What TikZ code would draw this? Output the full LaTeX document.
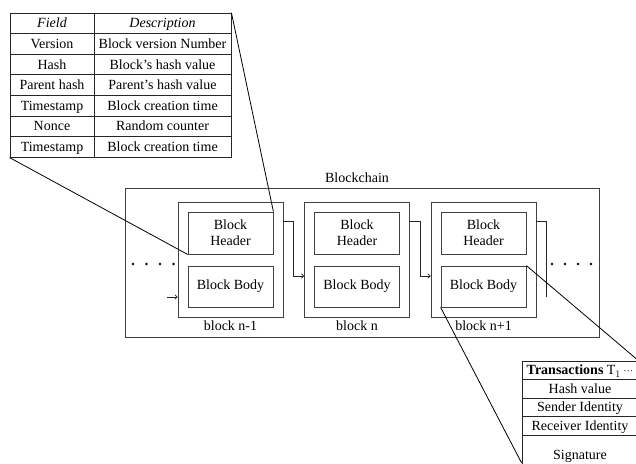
\documentclass[tikz,border=0pt]{standalone}
\usepackage{fontspec}
\setmainfont{Liberation Serif}
\usetikzlibrary{arrows.meta}
\begin{document}
\begin{tikzpicture}[x=1pt,y=-1pt,
  every node/.style={font=\fontsize{14}{16}\selectfont, inner sep=0pt},
  line/.style={line width=0.8pt, draw=black!85},
  cellA/.style={line, draw, minimum width=84pt, minimum height=20.6pt, text height=9.3pt, text depth=0pt},
  cellB/.style={line, draw, minimum width=137pt, minimum height=20.6pt, text height=9.3pt, text depth=0pt},
  cellT/.style={line, draw, minimum width=116pt, minimum height=18.5pt, text height=9.3pt, text depth=0pt},
  outerbox/.style={line, draw=black!75, minimum width=105pt, minimum height=115pt},
  innerbox/.style={line, draw=black!75, minimum width=85pt, align=center},
  arr/.style={line, -{To[length=3pt,width=5pt]}},
  dot/.style={circle, fill=black, inner sep=0pt, minimum size=2.6pt}
]
\useasboundingbox (0,0) rectangle (636,463);

% top table
\node[cellA, font=\fontsize{14}{16}\selectfont\itshape] (f0) at (52,23.3) {Field};
\node[cellB, font=\fontsize{14}{16}\selectfont\itshape] (d0) at (162.5,23.3) {Description};
\node[cellA] (f1) at (52,43.9) {Version};
\node[cellB] (d1) at (162.5,43.9) {Block version Number};
\node[cellA] (f2) at (52,64.5) {Hash};
\node[cellB] (d2) at (162.5,64.5) {Block’s hash value};
\node[cellA] (f3) at (52,85.1) {Parent hash};
\node[cellB] (d3) at (162.5,85.1) {Parent’s hash value};
\node[cellA] (f4) at (52,105.7) {Timestamp};
\node[cellB] (d4) at (162.5,105.7) {Block creation time};
\node[cellA] (f5) at (52,126.3) {Nonce};
\node[cellB] (d5) at (162.5,126.3) {Random counter};
\node[cellA] (f6) at (52,146.9) {Timestamp};
\node[cellB] (d6) at (162.5,146.9) {Block creation time};

% blockchain frame
\node[line, draw=black!75, minimum width=474pt, minimum height=149pt] (chain) at (362,262.5) {};
\node (chainlbl) at (357,178) {Blockchain};

% blocks
\foreach \i/\x/\lbl in {1/178/{block n-1}, 2/304.5/{block n}, 3/431/{block n+1}} {
  \node[outerbox] (b\i) at (\x+52.5,259.5) {};
  \node[innerbox, minimum height=42pt] (h\i) at (\x+52.5,233) {Block\\Header};
  \node[innerbox, minimum height=41pt] (bd\i) at (\x+52.5,286.5) {Block Body};
  \node (l\i) at (\x+52.5,326) {\lbl};
}

% links between blocks
\coordinate (in1) at (167,297);
\draw[arr] (in1) -- (in1 -| b1.west);
\draw[arr] ([yshift=-20]b1.north east) -- ++(10,0) |- ([yshift=10.5]b2.west |- bd2.center);
\draw[arr] ([yshift=-20]b2.north east) -- ++(10,0) |- ([yshift=10.5]b3.west |- bd3.center);
\coordinate (out3) at (546,297);
\draw[line] ([yshift=-20]b3.north east) -| (out3);

% dots
\foreach \x [count=\k] in {133,146.5,160,173.5} \node[dot] (ld\k) at (\x,264) {};
\foreach \x [count=\k] in {552,565,578,591} \node[dot] (rd\k) at (\x,264) {};

% zoom lines to header table
\draw[line, draw=black] (f6.south west) -- (h1.south west);
\draw[line, draw=black] (d0.north east) -- (h1.north east);

% transactions table
\node[cellT] (t0) at (580,370.25) {\textbf{Transactions} T$_1$\,{\fontsize{10}{12}\selectfont···}};
\node[cellT] (t1) at (580,388.75) {Hash value};
\node[cellT] (t2) at (580,407.25) {Sender Identity};
\node[cellT] (t3) at (580,425.75) {Receiver Identity};
\node[cellT, minimum height=40pt] (t4) at (580,455) {Signature};

% zoom lines to transactions table
\draw[line, draw=black] (bd3.north east) -- (t0.north east);
\draw[line, draw=black] (bd3.south west) -- (t4.west |- 0,463);
\end{tikzpicture}
\end{document}
